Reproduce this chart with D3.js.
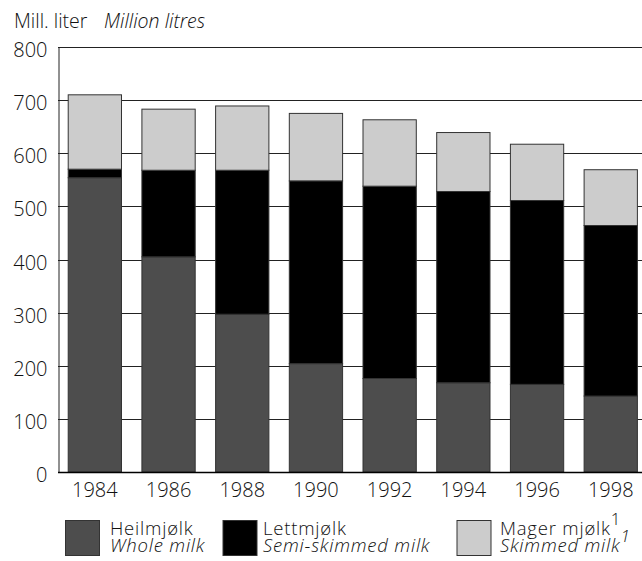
<!DOCTYPE html>
<html><head><meta charset="utf-8">
<script src="https://cdn.jsdelivr.net/npm/d3@7"></script>
<style>body{margin:0;background:#fff}svg{display:block}text{font-family:"Open Sans",sans-serif;font-weight:300;fill:#111}</style>
</head><body><svg id="c" width="642" height="561"></svg>
<script>
const years = ["1984","1986","1988","1990","1992","1994","1996","1998"];
const wholeMilk = [554, 405, 297, 204, 176, 168, 165, 143];
const semiSkimmed = [16, 163, 271, 344, 362, 360, 346, 321];
const skimmed = [140, 115, 121, 127, 125, 111, 106, 105];
const yTicks = [0,100,200,300,400,500,600,700,800];
const seriesKeys = ["whole","semi","skim"];
const seriesNo = ["Heilmjølk","Lettmjølk","Mager mjølk"];
const seriesEn = ["Whole milk","Semi-skimmed milk","Skimmed milk"];
const seriesSup = ["","","1"];
const colors = ["#4d4d4d","#000000","#cccccc"];

const svg = d3.select("#c");
const data = years.map((y,i)=>({year:y, whole:wholeMilk[i], semi:semiSkimmed[i], skim:skimmed[i]}));
const x = d3.scaleBand().domain(years).range([58,647.6]).paddingInner(0.277).paddingOuter(0.1385);
const y = d3.scaleLinear().domain([0,800]).range([472,47]);

// gridlines
svg.append("g").selectAll("line").data(yTicks.filter(d=>d>0)).join("line")
  .attr("x1",58).attr("x2",642).attr("y1",d=>Math.round(y(d))+0.5).attr("y2",d=>Math.round(y(d))+0.5)
  .attr("stroke","#222").attr("stroke-width",1);

const stack = d3.stack().keys(seriesKeys)(data);
svg.append("g").selectAll("g").data(stack).join("g")
  .attr("fill",(d,i)=>colors[i])
  .selectAll("rect").data(d=>d).join("rect")
  .attr("x",d=>x(d.data.year)).attr("width",x.bandwidth())
  .attr("y",d=>y(d[1])).attr("height",d=>y(d[0])-y(d[1]))
  .attr("stroke","#333").attr("stroke-width",1);

// axes
const yAxis = svg.append("g").attr("transform","translate(58.5,0)")
  .call(d3.axisLeft(y).tickValues(yTicks).tickSize(0).tickPadding(11));
yAxis.select(".domain").attr("stroke","#222");
yAxis.selectAll("text").attr("font-size",20).attr("fill","#111").attr("dy","0.48em")
  .style("font-family","'Open Sans',sans-serif").style("font-weight",300);
svg.append("line").attr("x1",58).attr("x2",642).attr("y1",472.5).attr("y2",472.5).attr("stroke","#000").attr("stroke-width",1.5);

const xAxis = svg.append("g").attr("transform","translate(0,472)")
  .call(d3.axisBottom(x).tickSize(0).tickPadding(0));
xAxis.select(".domain").remove();
xAxis.selectAll("text").attr("font-size",20).attr("fill","#111").attr("y",25).attr("dy",null)
  .style("font-family","'Open Sans',sans-serif").style("font-weight",300);

// title
const t = svg.append("text").attr("y",28).attr("font-size",19.5);
t.append("tspan").attr("x",14).text("Mill. liter");
t.append("tspan").attr("x",104).attr("font-style","italic").text("Million litres");

// legend
const legX = [65, 222.5, 456.5];
const legTextX = [110, 263, 500];
const lg = svg.append("g").selectAll("g").data(seriesKeys).join("g");
lg.append("rect").attr("x",(d,i)=>legX[i]+0.5).attr("y",520.5).attr("width",34).attr("height",35)
  .attr("fill",(d,i)=>colors[i]).attr("stroke","#333");
lg.each(function(d,i){
  const g = d3.select(this);
  const a = g.append("text").attr("x",legTextX[i]).attr("y",535).attr("font-size",18.5).attr("letter-spacing",0.8).text(seriesNo[i]);
  if(seriesSup[i]) a.append("tspan").attr("dy",-10).attr("font-size",17).text(seriesSup[i]);
  const b = g.append("text").attr("x",legTextX[i]).attr("y",551.5).attr("font-size",18.5).attr("letter-spacing",0.8).attr("font-style","italic").text(seriesEn[i]);
  if(seriesSup[i]) b.append("tspan").attr("dy",-10).attr("font-size",17).text(seriesSup[i]);
});
</script></body></html>
